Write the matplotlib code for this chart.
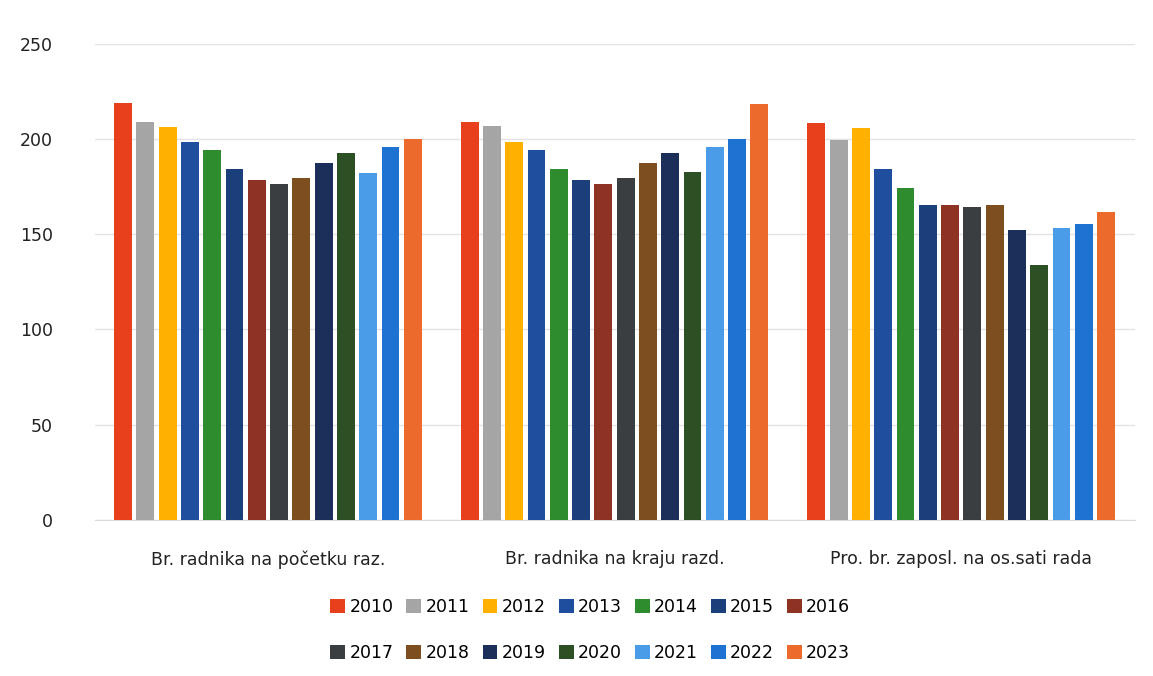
import numpy as np
import matplotlib.pyplot as plt
from matplotlib.patches import Patch

# kategorije i godine
kategorije = ["Br. radnika na početku raz.", "Br. radnika na kraju razd.", "Pro. br. zaposl. na os.sati rada"]
godine = ["2010", "2011", "2012", "2013", "2014", "2015", "2016",
          "2017", "2018", "2019", "2020", "2021", "2022", "2023"]

# vrijednosti po kategoriji (redom po godinama)
pocetak = [219, 209, 206.5, 198.5, 194.5, 184.5, 178.5, 176.5, 179.5, 187.5, 192.5, 182, 196, 200]
kraj = [209, 207, 198.5, 194.5, 184.5, 178.5, 176.5, 179.5, 187.5, 192.5, 182.5, 196, 200, 218.5]
prosjek = [208.5, 199.5, 206, 184.5, 174.5, 165.5, 165.5, 164.5, 165.5, 152.5, 134, 153.5, 155.5, 161.5]

boje = ["#E8401C", "#A5A5A5", "#FFB000", "#1F4E9F", "#2E8B2E", "#1B3F7A", "#8E3224",
        "#3A3E40", "#7D4E1E", "#1C2E5A", "#2D4F24", "#4A9BE8", "#1E73D2", "#EC6A2B"]

def crtaj(imgfilename):
	podaci = np.array([pocetak, kraj, prosjek])  # 3 x 14
	fig = plt.figure(figsize=(11.53, 6.76), dpi=100)
	ax = fig.add_axes([0.082, 0.231, 0.902, 0.704])

	n = len(godine)
	korak = 0.9 / n
	sirina = korak * 0.8
	x = np.arange(len(kategorije))
	for i in range(n):
		pomak = -0.45 + korak * (i + 0.5)
		ax.bar(x + pomak, podaci[:, i], width=sirina, color=boje[i], zorder=3)

	ax.set_ylim(0, 250)
	ax.set_xlim(-0.5, len(kategorije) - 0.5)
	ax.set_yticks([0, 50, 100, 150, 200, 250])
	ax.set_xticks(x)
	ax.set_xticklabels(kategorije)
	ax.yaxis.grid(True, color="#E3E3E3", linewidth=1, zorder=0)
	for s in ["top", "right", "left"]:
		ax.spines[s].set_visible(False)
	ax.spines["bottom"].set_color("#D9D9D9")
	ax.tick_params(axis="y", length=0, pad=30, labelsize=12.5, labelcolor="#222222")
	ax.tick_params(axis="x", length=0, pad=22, labelsize=12.5, labelcolor="#222222")

	# legenda red po red (matplotlib puni po stupcima pa preslozi)
	red = []
	for c in range(7):
		red.append(c)
		red.append(c + 7)
	rucke = [Patch(facecolor=boje[i], label=godine[i]) for i in red]
	fig.legend(handles=rucke, loc="upper center", bbox_to_anchor=(0.512, 0.138),
	           ncol=7, frameon=False, fontsize=12.5, handlelength=0.85, handleheight=0.85,
	           handletextpad=0.25, columnspacing=0.75, labelspacing=1.6)

	plt.savefig(imgfilename)
	plt.close()

if __name__ == '__main__':
	crtaj("out.png")
